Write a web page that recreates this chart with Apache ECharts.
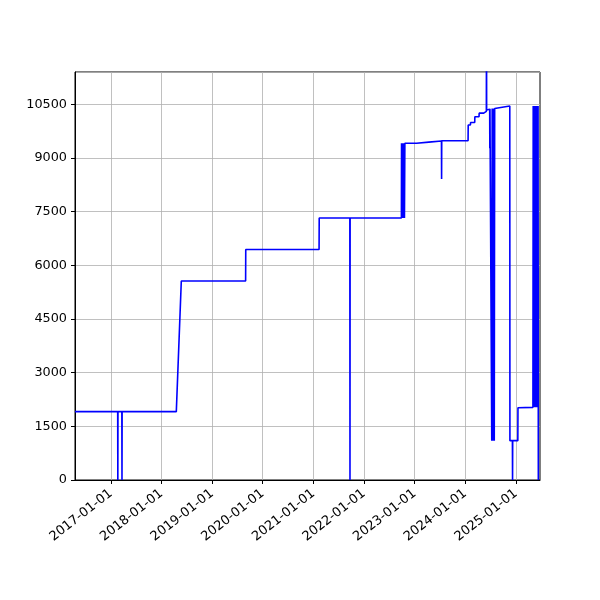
<!DOCTYPE html>
<html>
<head>
<meta charset="utf-8">
<script src="https://cdn.jsdelivr.net/npm/echarts@6/dist/echarts.min.js"></script>
<style>
  html, body { margin: 0; padding: 0; background: #fff; }
  #main { width: 600px; height: 600px; }
</style>
</head>
<body>
<div id="main"></div>
<script>
// values
const dates = [
  '2016-04-17', '2017-02-19', '2017-02-20', '2017-02-21', '2017-03-21', '2017-03-22', '2017-03-23',
  '2018-04-18', '2018-05-24', '2019-08-31', '2019-09-01', '2021-02-11', '2021-02-12',
  '2021-09-21', '2021-09-22', '2021-09-23', '2022-09-28',
  '2022-09-29', '2022-10-02', '2022-10-05', '2022-10-08', '2022-10-11', '2022-10-14', '2022-10-17', '2022-10-20', '2022-10-23',
  '2023-01-15', '2023-01-16', '2023-04-14', '2023-04-15', '2023-07-14', '2023-07-15', '2023-07-16',
  '2024-01-22', '2024-01-23', '2024-02-08', '2024-02-09', '2024-03-10', '2024-03-11', '2024-04-10', '2024-04-11',
  '2024-05-14', '2024-05-15', '2024-06-02', '2024-06-03', '2024-06-04', '2024-06-26', '2024-06-27', '2024-06-28',
  '2024-07-08', '2024-07-11', '2024-07-14', '2024-07-17', '2024-07-20', '2024-07-23', '2024-07-26', '2024-07-29', '2024-08-01',
  '2024-11-18', '2024-11-19', '2024-12-07', '2024-12-08', '2024-12-09', '2025-01-15', '2025-01-16',
  '2025-05-04', '2025-05-06', '2025-05-09', '2025-05-12', '2025-05-15', '2025-05-18', '2025-05-21', '2025-05-24',
  '2025-05-27', '2025-05-30', '2025-06-02', '2025-06-05', '2025-06-08', '2025-06-10', '2025-06-12'
];
const values = [
  1910, 1910, 0, 1910, 1910, 0, 1910,
  1910, 5560, 5560, 6440, 6440, 7320,
  7320, 0, 7320, 7320,
  9410, 7320, 9410, 7320, 9410, 7320, 9410, 7320, 9410,
  9410, 9440, 9440, 9470, 9470, 8410, 9480,
  9480, 9920, 9920, 9990, 9990, 10150, 10150, 10250,
  10250, 10300, 10300, 13500, 10340, 10360, 9270, 10370,
  10380, 1100, 10380, 1100, 10380, 1100, 10380, 1100, 10380,
  10450, 1100, 1100, 0, 1100, 1100, 2020,
  2030, 10450, 2030, 10450, 2030, 10450, 2030, 10450,
  2030, 10450, 2030, 10450, 2030, 10450, 0
];
const tickLabels = [
  '2017-01-01', '2018-01-01', '2019-01-01', '2020-01-01', '2021-01-01',
  '2022-01-01', '2023-01-01', '2024-01-01', '2025-01-01'
];
const xMin = '2016-04-17';
const xMax = '2025-06-24';

const parse = s => +echarts.number.parseDate(s);
const tickTimes = tickLabels.map(parse);

const chart = echarts.init(document.getElementById('main'), null, { renderer: 'canvas' });
chart.setOption({
  animation: false,
  backgroundColor: '#fff',
  textStyle: { fontFamily: 'DejaVu Sans' },
  grid: {
    left: 75, right: 60, top: 72, bottom: 120,
    show: true, borderColor: '#000', borderWidth: 1, backgroundColor: 'transparent'
  },
  xAxis: {
    type: 'value',
    min: parse(xMin),
    max: parse(xMax),
    axisLine: { show: true, lineStyle: { color: '#000', width: 1 } },
    axisTick: { show: true, length: 4, lineStyle: { color: '#000' }, customValues: tickTimes },
    splitLine: { show: true, lineStyle: { color: '#b0b0b0', width: 0.8 } },
    axisLabel: {
      customValues: tickTimes,
      rotate: 38,
      margin: 12,
      color: '#000',
      fontSize: 13,
      fontFamily: 'DejaVu Sans',
      formatter: v => tickLabels[tickTimes.indexOf(v)] || ''
    }
  },
  yAxis: {
    type: 'value',
    min: 0,
    max: 11400,
    interval: 1500,
    axisLine: { show: true, lineStyle: { color: '#000', width: 1 } },
    axisTick: { show: true, length: 4, lineStyle: { color: '#000' } },
    splitLine: { show: true, lineStyle: { color: '#b0b0b0', width: 0.8 } },
    axisLabel: {
      showMaxLabel: false,
      margin: 8,
      color: '#000',
      fontSize: 12.8,
      fontFamily: 'DejaVu Sans',
      formatter: v => String(v)
    }
  },
  series: [{
    type: 'line',
    data: dates.map((d, i) => [parse(d), values[i]]),
    showSymbol: false,
    clip: true,
    lineStyle: { color: '#0000ff', width: 1.6 },
    itemStyle: { color: '#0000ff' }
  }]
});
</script>
</body>
</html>
